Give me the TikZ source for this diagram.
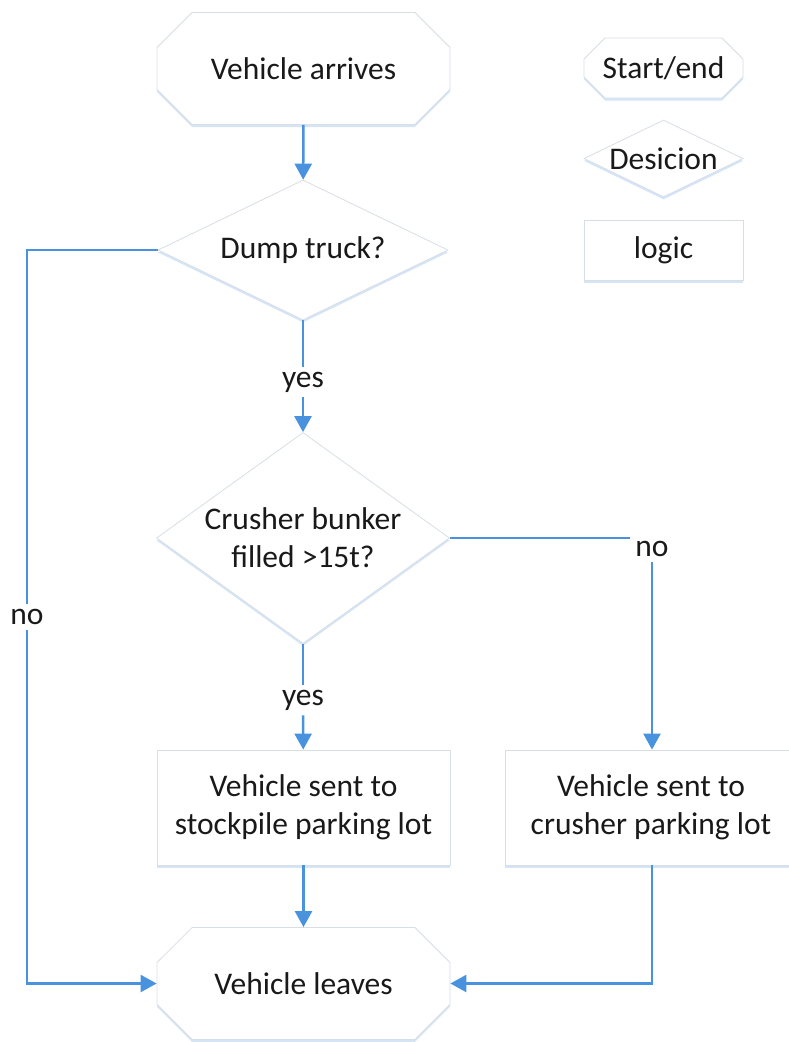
\documentclass[tikz,border=0pt]{standalone}
\usepackage{fontspec}
\setmainfont{Carlito}
\usetikzlibrary{shapes.misc,shapes.geometric,arrows.meta,shadows}

\definecolor{flow}{RGB}{72,146,222}
\definecolor{outline}{RGB}{216,222,230}
\definecolor{glow}{RGB}{208,226,245}
\definecolor{ink}{RGB}{25,25,25}

\newcommand{\flowfont}{\fontsize{31.5}{38}\selectfont}

\tikzset{
  base/.style={draw=outline, line width=0.8pt, fill=white, text=ink,
    align=center, inner sep=0pt, font=\flowfont,
    drop shadow={shadow xshift=0pt, shadow yshift=-2.5pt, fill=glow, opacity=0.9}},
  terminal/.style={base, chamfered rectangle,
    chamfered rectangle xsep=28pt, chamfered rectangle ysep=24pt,
    minimum width=293pt, minimum height=112pt},
  % the diamond keeps its given size; its text is a separate node on top
  decision/.style={base, diamond, minimum width=290pt, minimum height=140pt},
  caption/.style={text=ink, align=center, font=\flowfont, inner sep=0pt},
  process/.style={base, rectangle, minimum width=293pt, minimum height=115pt},
  label/.style={text=ink, font=\flowfont, inner sep=5pt},
  wire/.style={draw=flow, line width=2.5pt},
  arrowline/.style={wire, -{Triangle[width=17pt,length=16pt]}},
}

\begin{document}
\begin{tikzpicture}[x=1pt, y=-1pt]
\useasboundingbox (0,0) rectangle (788,1042);

% main flow
\node[terminal] (start) at (303.5,68.5) {Vehicle arrives};
\node[decision] (dump) at (303,250) {};
\node[caption] (dumptext) at (dump.center) {Dump truck?};
\node[label] (yes1) at (303,382) {yes};
\node[decision, minimum width=293pt, minimum height=211pt] (bunker) at (303,538) {};
\node[caption] (bunkertext) at (bunker.center) {Crusher bunker\\filled >15t?};
\node[label] (yes2) at (303,700) {yes};
\node[process] (stock) at (303.5,807.5) {Vehicle sent to\\stockpile parking lot};
% this box runs on past the right edge of the page
\node[process, minimum width=292pt] (crusher) at (651,807.5)
  {Vehicle sent to\\crusher parking lot};
\node[terminal] (leave) at (303.5,983.5) {Vehicle leaves};

% side labels
\node[label] (no1) at (27,617) {no};
\node[label] (no2) at (652,549) {no};
\coordinate (lc) at (27,250);

% legend
\node[terminal, minimum width=159pt, minimum height=60pt,
  chamfered rectangle xsep=11pt, chamfered rectangle ysep=10pt]
  (keyterm) at (663.5,68) {Start/end};
\node[decision, minimum width=159pt, minimum height=77pt] (keydec) at (663.5,158.5) {};
\node[caption] (keydectext) at (keydec.center) {Desicion};
\node[process, minimum width=159pt, minimum height=60pt] (keyproc) at (663.5,250) {logic};

% connectors
\draw[arrowline] (start) -- (dump);
\draw[wire] (dump) -- (yes1);
\draw[arrowline] (yes1) -- (bunker);
\draw[wire] (bunker) -- (yes2);
\draw[arrowline] (yes2) -- (stock);
\draw[arrowline] (stock) -- (leave);

\draw[wire] (dump.west) -- (lc) -- (no1);
\draw[arrowline] (no1.south) |- (leave.west);

\draw[wire] (bunker.east) -- (bunker.east -| no2.west);
\draw[arrowline] (no2.south) -- (no2.south |- crusher.north);
\draw[arrowline] (crusher.south -| no2) |- (leave.east);
\end{tikzpicture}
\end{document}
